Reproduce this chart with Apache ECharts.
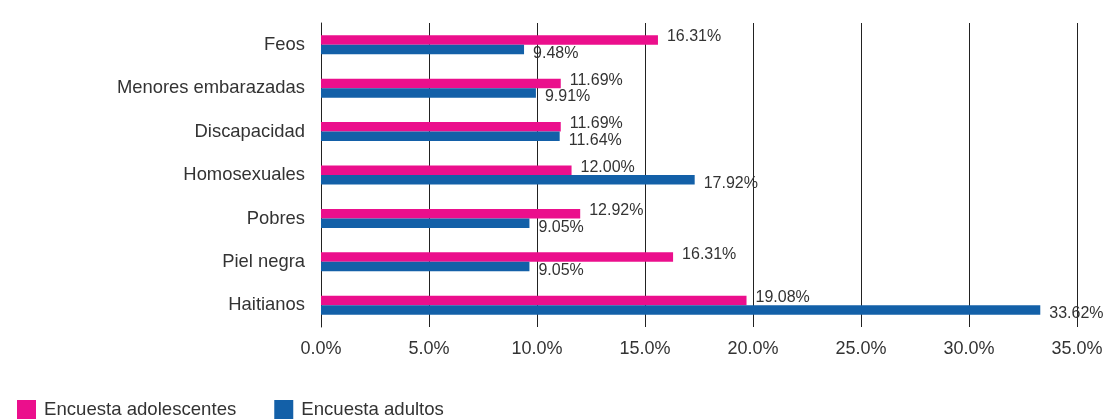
<!DOCTYPE html>
<html>
<head>
<meta charset="utf-8">
<script src="https://cdn.jsdelivr.net/npm/echarts@6/dist/echarts.min.js"></script>
<style>
  html, body { margin: 0; padding: 0; background: #fff; }
  #chart { width: 1106px; height: 419px; }
</style>
</head>
<body>
<div id="chart"></div>
<script>
(function (window, document, echarts) {

	/** data **/
	var categories = ['Feos', 'Menores embarazadas', 'Discapacidad', 'Homosexuales', 'Pobres', 'Piel negra', 'Haitianos'];
	var seriesNames = ['Encuesta adolescentes', 'Encuesta adultos'];
	// bar lengths as drawn
	var adolescentes = [15.6, 11.1, 11.1, 11.6, 12.0, 16.3, 19.7];
	var adultos = [9.4, 9.95, 11.05, 17.3, 9.65, 9.65, 33.3];
	// printed labels
	var adolescentesLabels = ['16.31%', '11.69%', '11.69%', '12.00%', '12.92%', '16.31%', '19.08%'];
	var adultosLabels = ['9.48%', '9.91%', '11.64%', '17.92%', '9.05%', '9.05%', '33.62%'];
	var xTicks = { min: 0, max: 35, interval: 5 };

	var font = 'Liberation Sans, Arial, Helvetica, sans-serif';
	var textColor = '#333';

	var chart = echarts.init(document.getElementById('chart'));

	var option = {
		animation: false,
		color: ['#EB0F8C', '#1360A8'],
		textStyle: { fontFamily: font },
		grid: { left: 321, right: 29, top: 23, bottom: 92 },
		legend: {
			left: 12,
			top: 395,
			itemWidth: 19,
			itemHeight: 19,
			itemGap: 38,
			icon: 'rect',
			selectedMode: false,
			textStyle: { fontSize: 18.6, color: textColor, fontFamily: font, padding: [0, 0, 0, 3] },
			data: seriesNames
		},
		xAxis: {
			type: 'value',
			min: xTicks.min,
			max: xTicks.max,
			interval: xTicks.interval,
			axisLine: { show: false },
			axisTick: { show: false },
			splitLine: { lineStyle: { color: '#222', width: 1 } },
			axisLabel: {
				margin: 13,
				fontSize: 18,
				color: textColor,
				fontFamily: font,
				formatter: function (v) { return v.toFixed(1) + '%'; }
			}
		},
		yAxis: {
			type: 'category',
			inverse: true,
			data: categories,
			axisLine: { lineStyle: { color: '#222', width: 1 } },
			axisTick: { alignWithLabel: true, length: 5, lineStyle: { color: '#222' } },
			axisLabel: { margin: 16, fontSize: 18.4, color: textColor, fontFamily: font }
		},
		series: [
			{
				name: seriesNames[0],
				type: 'bar',
				barWidth: 9.5,
				barGap: '0%',
				data: adolescentes,
				label: {
					show: true,
					position: 'right',
					distance: 9,
					offset: [0, -3],
					fontSize: 16,
					color: textColor,
					fontFamily: font,
					formatter: function (p) { return adolescentesLabels[p.dataIndex]; }
				}
			},
			{
				name: seriesNames[1],
				type: 'bar',
				barWidth: 9.5,
				barGap: '0%',
				data: adultos,
				label: {
					show: true,
					position: 'right',
					distance: 9,
					offset: [0, 4],
					fontSize: 16,
					color: textColor,
					fontFamily: font,
					formatter: function (p) { return adultosLabels[p.dataIndex]; }
				}
			}
		]
	};

	chart.setOption(option);

})(window, document, echarts);
</script>
</body>
</html>
